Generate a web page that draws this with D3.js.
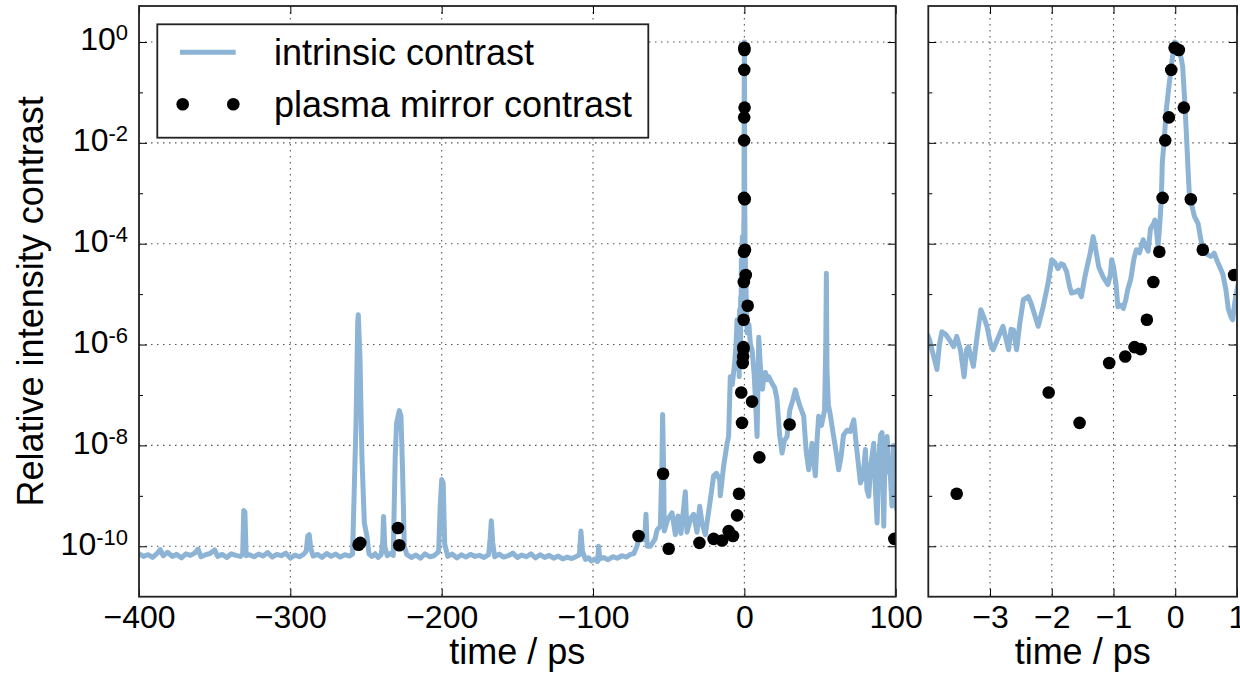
<!DOCTYPE html>
<html>
<head>
<meta charset="utf-8">
<style>
body{margin:0;background:#fff}
svg text{font-family:"Liberation Sans",Arial,Helvetica,sans-serif;fill:#000}
</style>
</head>
<body>
<svg id="chart" width="1240" height="677"></svg>
<script src="https://d3js.org/d3.v7.min.js"></script>
<script>
// intrinsic contrast, long scan  [time ps, contrast]
var scanLong = [
[-400,7.1e-11],[-397,6.3e-11],[-394,6.8e-11],[-391,6.0e-11],[-388,7.2e-11],[-386,8.6e-11],[-384,6.5e-11],[-381,7.6e-11],
[-378,6.3e-11],[-375,6.9e-11],[-372,5.9e-11],[-369,7.1e-11],[-366,6.6e-11],[-363,7.4e-11],[-361,8.8e-11],[-359,6.2e-11],
[-356,6.8e-11],[-353,7.2e-11],[-350,8.5e-11],[-348,6.3e-11],[-345,6.9e-11],[-342,6.0e-11],[-339,7.1e-11],[-336,6.6e-11],
[-333,6.3e-11],[-331.5,7.0e-11],[-330.8,5.1e-10],[-330,4.8e-10],[-329.2,6.5e-11],[-327,6.8e-11],[-324,6.2e-11],[-321,7.0e-11],
[-318,6.4e-11],[-315,7.5e-11],[-312,6.1e-11],[-309,6.9e-11],[-306,6.5e-11],[-303,7.3e-11],[-300,5.8e-11],[-297,6.7e-11],
[-294,6.2e-11],[-291,7.0e-11],[-289.5,8.0e-11],[-288.5,1.6e-10],[-287.5,1.7e-10],[-286.5,9.0e-11],[-285,6.4e-11],[-282,6.9e-11],
[-279,6.0e-11],[-276,7.2e-11],[-273,6.3e-11],[-270,7.0e-11],[-267,6.1e-11],[-264,6.8e-11],[-261,6.4e-11],[-258.9,7.0e-11],
[-256.6,2.8e-8],[-255.5,2.7e-6],[-255.1,3.9e-6],[-254,5.8e-7],[-252.7,6.0e-9],[-251.1,2.9e-10],[-249.4,1.6e-10],[-248,7.0e-11],
[-246,6.3e-11],[-244,7.1e-11],[-242,6.0e-11],[-240,6.8e-11],[-239,1.2e-10],[-238.4,3.9e-10],[-237.6,1.0e-10],[-236,6.5e-11],
[-234,7.2e-11],[-232,6.6e-11],[-230.7,6.0e-9],[-229.8,2.75e-8],[-228,4.9e-8],[-226.9,3.8e-8],[-225.8,2.8e-9],[-224.7,1.0e-10],
[-223,6.8e-11],[-220,6.0e-11],[-217,6.7e-11],[-214,5.8e-11],[-211,7.1e-11],[-208,6.2e-11],[-205,6.5e-11],[-202,7.8e-11],
[-201,6.0e-10],[-200,2.1e-9],[-199,1.8e-9],[-198,1.1e-10],[-196,6.3e-11],[-193,7.0e-11],[-190,5.9e-11],[-187,6.8e-11],
[-184,6.1e-11],[-181,6.9e-11],[-178,6.3e-11],[-175,6.6e-11],[-172,6.0e-11],[-169,6.8e-11],[-168,1.4e-10],[-167.2,3.2e-10],
[-166.3,1.2e-10],[-165,6.2e-11],[-162,7.0e-11],[-159,6.1e-11],[-156,6.5e-11],[-153,7.3e-11],[-150,6.0e-11],[-147,6.7e-11],
[-144,6.2e-11],[-141,7.1e-11],[-138,5.9e-11],[-135,6.8e-11],[-132,6.0e-11],[-129,6.6e-11],[-126,5.8e-11],[-123,6.4e-11],
[-120,5.6e-11],[-117,6.1e-11],[-114,5.7e-11],[-111,6.3e-11],[-109,6.8e-11],[-108,2.0e-10],[-107,8.0e-11],[-105,5.5e-11],
[-103,5.9e-11],[-101,5.1e-11],[-99,5.6e-11],[-97,5.0e-11],[-96.3,1.0e-10],[-95.5,5.6e-11],[-93,6.0e-11],[-90,5.4e-11],
[-87,6.2e-11],[-84,5.8e-11],[-81,6.5e-11],[-78,6.1e-11],[-75.3,6.9e-11],[-73,7.2e-11],[-71,1.0e-10],[-69.8,1.35e-10],
[-67,1.35e-10],[-65.8,1.5e-10],[-65,4.3e-10],[-64.2,1.0e-10],[-62,1.0e-10],[-59,1.4e-10],[-57.7,2.1e-10],[-55.5,2.5e-10],
[-54.5,4.0e-9],[-54,4.1e-8],[-53.4,4.0e-9],[-52.9,2.0e-10],[-50.7,3.4e-10],[-47.8,4.6e-10],[-45.6,1.7e-10],[-43.8,4.0e-10],
[-41.9,1.8e-10],[-39,1.2e-9],[-37.9,1.9e-10],[-35.5,3.6e-10],[-33.5,4.3e-10],[-31.3,1.9e-10],[-29.5,6.2e-10],[-27.9,2.8e-10],
[-25.8,1.7e-10],[-22.5,8.3e-10],[-20.3,2.5e-9],[-18.5,2.8e-9],[-16.3,2.1e-9],[-15.9,1.0e-9],[-13.7,3.9e-9],[-11.4,1.1e-8],
[-10.4,1.5e-8],[-9.3,2.3e-7],[-8,1.6e-7],[-6.5,4.0e-7],[-5.5,1.0e-6],[-4.8,3.1e-6],
[1.8,1.7e-6],[3,2.5e-6],[4,1.0e-6],[5.1,7.9e-7],[6.5,2.5e-7],[7.5,6.3e-8],[8.4,1.5e-8],[9.5,1.4e-6],
[10.5,4.0e-7],[12,1.3e-7],[12.8,2.3e-7],[14,2.8e-7],[15,2.0e-7],[16.1,2.3e-7],[18.3,1.7e-7],[20,1.4e-7],
[21.6,8.1e-8],[23.3,1.6e-8],[24.9,7.1e-9],[26.5,1.26e-8],[28.2,1.5e-8],[30,5.0e-8],[32,7.9e-8],[33.7,1.26e-7],
[35,8.9e-8],[36.5,6.3e-8],[39.2,3.8e-8],[40.8,7.9e-9],[42.5,3.3e-9],[44.7,1.1e-8],[45.8,5.0e-9],[46.9,2.5e-9],
[48,1.2e-8],[49.1,3.8e-8],[51,2.5e-8],[53,5.0e-8],[53.8,1.0e-6],[54.2,2.6e-5],[54.6,3.2e-7],[55.5,6.3e-8],
[56.8,4.0e-8],[59,1.5e-8],[60.5,7.9e-9],[62.3,3.3e-9],[64,6.3e-9],[65.5,1.6e-8],[67.9,2.0e-8],[70,1.9e-8],
[72.3,3.2e-8],[74,1.0e-8],[76.7,1.8e-9],[78.5,2.5e-9],[80,8.3e-9],[81,1.3e-9],[82.2,9.8e-10],[83.5,4.0e-9],
[85.5,1.1e-8],[86.5,1.6e-9],[87.7,2.9e-10],[89,6.3e-9],[90,1.6e-8],[91,1.8e-8],[92.1,2.5e-10],[93,1.0e-8],
[94.3,1.5e-8],[95.5,3.2e-9],[96.5,2.5e-9],[97.5,6.3e-10],[98.5,1.0e-8],[99.8,7.2e-10],[101,5.0e-10]
];

// intrinsic contrast, fine scan around the main pulse
var scanPeak = [
[-4.05,1.95e-6],[-3.98,1.26e-6],[-3.94,7.9e-7],[-3.86,3.2e-7],[-3.82,1.0e-6],[-3.78,1.8e-6],[-3.72,1.6e-6],[-3.66,1.26e-6],
[-3.59,9.1e-7],[-3.54,1.45e-6],[-3.48,7.9e-7],[-3.42,2.3e-7],[-3.38,7.9e-7],[-3.35,9.1e-7],[-3.27,3.7e-7],[-3.21,1.45e-6],
[-3.15,4.9e-6],[-3.10,3.5e-6],[-3.05,2.3e-6],[-2.99,1.0e-6],[-2.95,7.9e-7],[-2.87,1.35e-6],[-2.79,2.3e-6],[-2.74,1.26e-6],
[-2.70,7.9e-7],[-2.66,2.0e-6],[-2.62,1.95e-6],[-2.57,7.9e-7],[-2.52,2.5e-6],[-2.46,7.8e-6],[-2.38,8.9e-6],[-2.33,6.3e-6],
[-2.28,4.0e-6],[-2.22,2.3e-6],[-2.14,5.6e-6],[-2.06,1.66e-5],[-2.00,4.8e-5],[-1.95,4.2e-5],[-1.90,3.2e-5],[-1.85,4.0e-5],
[-1.81,3.8e-5],[-1.76,2.8e-5],[-1.71,1.4e-5],[-1.68,1.05e-5],[-1.62,1.1e-5],[-1.57,1.2e-5],[-1.52,8.9e-6],[-1.47,2.0e-5],
[-1.44,3.0e-5],[-1.38,6.3e-5],[-1.33,1.38e-4],[-1.29,7.9e-5],[-1.24,3.5e-5],[-1.17,2.2e-5],[-1.09,1.55e-5],[-1.05,2.5e-5],
[-1.03,4.8e-5],[-1.00,3.5e-5],[-0.96,1.6e-5],[-0.93,5.6e-6],[-0.88,6.0e-6],[-0.84,5.2e-6],[-0.80,7.9e-6],[-0.77,1.23e-5],
[-0.72,2.0e-5],[-0.67,5.0e-5],[-0.63,7.6e-5],[-0.58,6.6e-5],[-0.54,1.0e-4],[-0.52,1.2e-4],[-0.48,8.9e-5],[-0.44,7.1e-5],
[-0.40,2.0e-4],[-0.35,2.5e-4],[-0.33,2.95e-4],[-0.30,1.6e-4],[-0.28,8.7e-5],[-0.25,2.5e-4],[-0.226,7.4e-4],[-0.21,4.0e-3],
[-0.18,1.12e-2],[-0.145,4.5e-2],[-0.10,0.14],[-0.065,0.32],[-0.03,0.71],[-0.01,1.0],[0.02,0.95],[0.06,0.69],
[0.10,0.45],[0.12,0.32],[0.15,7.9e-2],[0.18,1.55e-2],[0.21,2.5e-3],[0.23,8.5e-4],[0.26,6.3e-4],[0.31,3.5e-4],
[0.37,2.5e-4],[0.42,1.1e-4],[0.47,7.1e-5],[0.53,6.0e-5],[0.58,5.6e-5],[0.63,6.5e-5],[0.68,4.5e-5],[0.72,3.5e-5],
[0.77,2.5e-5],[0.82,1.23e-5],[0.86,5.0e-6],[0.90,3.6e-6],[0.93,3.1e-6],[0.96,6.3e-6],[0.99,1.05e-5],[1.02,1.6e-5]
];

// plasma mirror contrast  [time ps, contrast]
var plasmaMirror = [
[-254.9,1.07e-10],[-253.8,1.17e-10],[-228.9,2.3e-10],[-228.0,1.05e-10],[-69.9,1.6e-10],[-53.7,2.75e-9],[-50.0,8.9e-11],
[-29.7,1.17e-10],[-20.3,1.4e-10],[-14.7,1.3e-10],[-10.4,2.0e-10],[-7.5,1.6e-10],[-4.8,4.1e-10],[-3.54,1.1e-9],
[-2.05,1.12e-7],[-1.55,2.8e-8],[-1.07,4.3e-7],[-0.81,5.8e-7],[-0.66,8.9e-7],[-0.56,8.1e-7],[-0.46,3.1e-6],
[-0.355,1.74e-5],[-0.258,6.9e-5],[-0.205,8.1e-4],[-0.162,1.12e-2],[-0.103,3.2e-2],[-0.065,0.28],[-0.011,0.77],
[0.058,0.695],[0.139,5.0e-2],[0.252,7.6e-4],[0.446,7.6e-5],[0.953,2.4e-5],[2.2,5.9e-6],[5.1,7.4e-8],[9.9,5.8e-9],
[29.9,2.6e-8],[99.1,1.4e-10]
];

var xTicksLong = [-400,-300,-200,-100,0,100];
var xTicksShort = [-3,-2,-1,0,1];
var yTicksLabelled = [1e-10,1e-8,1e-6,1e-4,1e-2,1];
var yTicksOdd = [1e-9,1e-7,1e-5,1e-3,1e-1];
var legendLabels = ["intrinsic contrast","plasma mirror contrast"];

var lineColor = "#8db4d5";
var svg = d3.select("#chart");
var plotTop = 6, plotBottom = 596.7;

var y = d3.scaleLog().domain([1e-11, Math.pow(10, 36/50.47)]).range([plotBottom, plotTop]);

// both panels show the same measurement
var intrinsic = scanLong.concat(scanPeak).sort(function(a,b){ return a[0]-b[0]; });

function drawPanel(id, left, right, domain, xTicks, withLabels){
  var w = right - left, h = plotBottom - plotTop;
  var x = d3.scaleLinear().domain(domain).range([0, w]);
  var g = svg.append("g").attr("transform","translate(" + left + "," + plotTop + ")");
  var yy = function(v){ return y(v) - plotTop; };

  g.append("clipPath").attr("id", id).append("rect").attr("width", w).attr("height", h);

  // grid
  var inner = xTicks.filter(function(t){ return t > domain[0] && t < domain[1]; });
  g.selectAll(".gx").data(inner).enter().append("line")
    .attr("x1", function(d){ return x(d); }).attr("x2", function(d){ return x(d); })
    .attr("y1", 0).attr("y2", h)
    .attr("stroke","#555").attr("stroke-width",1.1).attr("stroke-dasharray","1.5,4.5");
  g.selectAll(".gy").data(yTicksLabelled).enter().append("line")
    .attr("x1", 0).attr("x2", w)
    .attr("y1", function(d){ return yy(d); }).attr("y2", function(d){ return yy(d); })
    .attr("stroke","#555").attr("stroke-width",1.1).attr("stroke-dasharray","1.5,4.5");

  var data = g.append("g").attr("clip-path","url(#" + id + ")");
  var line = d3.line().x(function(d){ return x(d[0]); }).y(function(d){ return yy(d[1]); });
  data.append("path").attr("d", line(intrinsic))
    .attr("fill","none").attr("stroke", lineColor).attr("stroke-width",5)
    .attr("stroke-linejoin","round");
  data.selectAll("circle").data(plasmaMirror).enter().append("circle")
    .attr("cx", function(d){ return x(d[0]); }).attr("cy", function(d){ return yy(d[1]); })
    .attr("r", 6.3).attr("fill","#000");

  // ticks pointing inward on all four sides
  var yLocal = y.copy().range([h, 0]);
  var axes = [
    [d3.axisBottom(x).tickValues(xTicks).tickFormat(d3.format("d")).tickSizeInner(-8).tickSizeOuter(0).tickPadding(9), "translate(0," + h + ")"],
    [d3.axisTop(x).tickValues(xTicks).tickSizeInner(-8).tickSizeOuter(0).tickFormat(""), null],
    [d3.axisLeft(yLocal).tickValues(yTicksLabelled).tickSizeInner(-8).tickSizeOuter(0).tickPadding(11), null],
    [d3.axisLeft(yLocal).tickValues(yTicksOdd).tickSizeInner(-4).tickSizeOuter(0).tickFormat(""), null],
    [d3.axisRight(yLocal).tickValues(yTicksLabelled).tickSizeInner(-8).tickSizeOuter(0).tickFormat(""), "translate(" + w + ",0)"],
    [d3.axisRight(yLocal).tickValues(yTicksOdd).tickSizeInner(-4).tickSizeOuter(0).tickFormat(""), "translate(" + w + ",0)"]
  ];
  axes.forEach(function(a, i){
    var ax = g.append("g").attr("class","ax" + i);
    if (a[1]) ax.attr("transform", a[1]);
    ax.call(a[0]);
    ax.select(".domain").remove();
    ax.selectAll("line").attr("stroke","#000").attr("stroke-width",1);
    ax.selectAll("text").attr("font-size",32).attr("fill","#000")
      .attr("font-family",'"Liberation Sans",Arial,sans-serif');
    if (i === 2 && !withLabels) ax.selectAll("text").remove();
  });
  // powers of ten on the y axis
  if (withLabels) {
    g.select(".ax2").selectAll("text").each(function(d){
      var t = d3.select(this).text(null).attr("dy", 8);
      var p = Math.round(Math.log10(d));
      t.append("tspan").text("10");
      t.append("tspan").attr("dy", -10).attr("font-size", 22).text(p < 0 ? "-" + (-p) : String(p));
    });
  }

  g.append("rect").attr("width", w).attr("height", h)
    .attr("fill","none").attr("stroke","#222").attr("stroke-width",1.8);

  svg.append("text").attr("x", left + w/2).attr("y", 664)
    .attr("text-anchor","middle").attr("font-size",36).text("time / ps");
}

drawPanel("clipL", 139, 895.7, [-400, 100], xTicksLong, true);
drawPanel("clipR", 928.3, 1237, [-4, 1], xTicksShort, false);

svg.append("text")
  .attr("transform","translate(43," + ((plotTop + plotBottom)/2) + ") rotate(-90)")
  .attr("text-anchor","middle").attr("font-size",36).text("Relative intensity contrast");

// legend
var lg = svg.append("g");
lg.append("rect").attr("x",157.3).attr("y",24.3).attr("width",491).attr("height",113.4)
  .attr("fill","#fff").attr("stroke","#222").attr("stroke-width",1.8);
lg.append("line").attr("x1",180).attr("x2",235.7).attr("y1",52.3).attr("y2",52.3)
  .attr("stroke", lineColor).attr("stroke-width",5);
lg.selectAll("circle").data([182.7, 233.3]).enter().append("circle")
  .attr("cx", function(d){ return d; }).attr("cy",104.3).attr("r",6.3).attr("fill","#000");
lg.selectAll("text").data(legendLabels).enter().append("text")
  .attr("x",274).attr("y", function(d,i){ return 65.3 + i*52; })
  .attr("font-size",36).text(function(d){ return d; });
</script>
</body>
</html>
